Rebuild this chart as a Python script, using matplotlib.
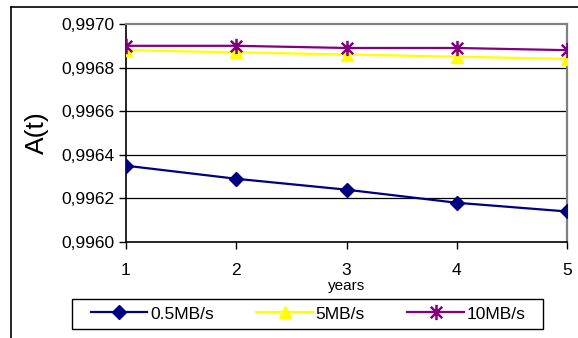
import matplotlib
matplotlib.use("Agg")
import matplotlib.pyplot as plt
from matplotlib.path import Path
from matplotlib.lines import Line2D
from matplotlib.patches import Rectangle
from matplotlib.ticker import FuncFormatter

plt.rcParams['font.family'] = ['Liberation Sans', 'DejaVu Sans']

years = [1, 2, 3, 4, 5]
series_names = ["0.5MB/s", "5MB/s", "10MB/s"]
a_05 = [0.99635, 0.99629, 0.99624, 0.99618, 0.99614]
a_5 = [0.99688, 0.99687, 0.99686, 0.99685, 0.99684]
a_10 = [0.99690, 0.99690, 0.99689, 0.99689, 0.99688]
y_ticks = [0.9960, 0.9962, 0.9964, 0.9966, 0.9968, 0.9970]

# asterisk marker: vertical bar plus an X
star = Path(
    [(0, -1), (0, 1), (-0.75, -0.75), (0.75, 0.75), (-0.75, 0.75), (0.75, -0.75)],
    [Path.MOVETO, Path.LINETO, Path.MOVETO, Path.LINETO, Path.MOVETO, Path.LINETO],
)

W, H = 578, 338
fig = plt.figure(figsize=(W / 100, H / 100), dpi=100)
ax = fig.add_axes([126 / W, 1 - 242 / H, (567 - 126) / W, (242 - 24) / H])

# outer chart frame (left and top edges)
fig.add_artist(Line2D([11 / W, 11 / W], [0, 1 - 7 / H], color='black', lw=1.2, transform=fig.transFigure))
fig.add_artist(Line2D([11 / W, 1], [1 - 7 / H, 1 - 7 / H], color='black', lw=1.2, transform=fig.transFigure))

ax.plot(years, a_05, color='#000080', lw=1.6, marker='D', ms=7, label=series_names[0], zorder=3)
ax.plot(years, a_5, color='#FFFF00', lw=1.6, marker='^', ms=9, label=series_names[1], zorder=3)
ax.plot(years, a_10, color='#800080', lw=1.6, marker=star, ms=11, mew=1.8,
        mfc='none', label=series_names[2], zorder=4)

ax.set_xlim(1, 5)
ax.set_ylim(0.9960, 0.9970)
ax.set_xticks(years)
ax.set_yticks(y_ticks)
ax.yaxis.set_major_formatter(FuncFormatter(lambda v, p: f"{v:.4f}".replace('.', ',')))
ax.tick_params(axis='both', labelsize=12.5, direction='out', length=5, width=1, color='black')
ax.tick_params(axis='y', pad=3)
ax.tick_params(axis='x', pad=10)
for v in y_ticks[1:-1]:
    ax.axhline(v, color='black', lw=0.9, zorder=1)

for s in ['top', 'right']:
    ax.spines[s].set_color('#808080')
    ax.spines[s].set_linewidth(1.6)
for s in ['left', 'bottom']:
    ax.spines[s].set_color('black')
    ax.spines[s].set_linewidth(1.2)

ax.set_ylabel("A(t)", fontsize=19, labelpad=9)
ax.set_xlabel("years", fontsize=11, labelpad=1)

# legend box drawn separately, entries placed inside it
fig.add_artist(Rectangle((72 / W, 1 - 329 / H), (543 - 72) / W, 30 / H, transform=fig.transFigure,
                         facecolor='white', edgecolor='black', lw=1.0, zorder=5))
leg = fig.legend(loc='center left', ncol=3, bbox_to_anchor=(91 / W, 1 - 314 / H),
                 borderaxespad=0, borderpad=0, frameon=False, fontsize=12.5,
                 handlelength=3.23, handletextpad=0.18, columnspacing=2.45)
leg.set_zorder(6)

fig.savefig("out.png", dpi=100)
